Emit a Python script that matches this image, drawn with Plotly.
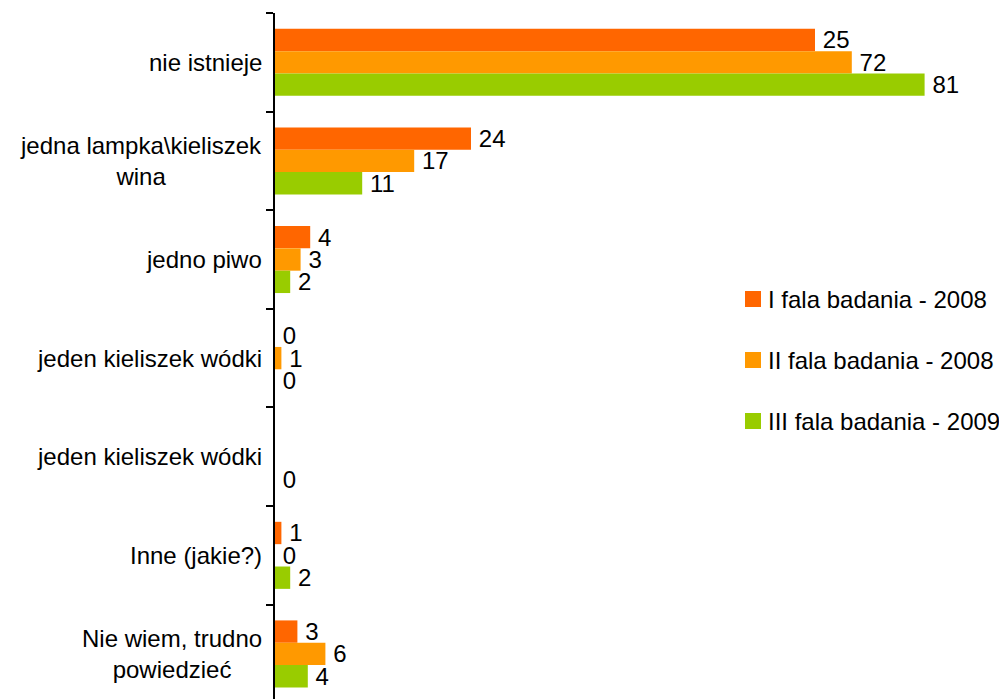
import plotly.graph_objects as go

categories = ["nie istnieje", "jedna lampka\\kieliszek<br>wina", "jedno piwo",
              "jeden kieliszek wódki", "jeden kieliszek wódki", "Inne (jakie?)",
              "Nie wiem, trudno<br>powiedzieć"]
series_names = ["I fala badania - 2008", "II fala badania - 2008", "III fala badania - 2009"]
colors = ["#FF6600", "#FF9900", "#99CC00"]

# bar lengths as drawn
vals_1 = [67.5, 24.5, 4.4, 0, None, 0.8, 2.8]
vals_2 = [72.1, 17.4, 3.2, 0.8, None, 0, 6.3]
vals_3 = [81.2, 10.9, 1.9, 0, 0, 1.9, 4.1]
# data labels as printed
labels_1 = ["25", "24", "4", "0", "", "1", "3"]
labels_2 = ["72", "17", "3", "1", "", "0", "6"]
labels_3 = ["81", "11", "2", "0", "0", "2", "4"]

FONT = "Liberation Sans, Arial, sans-serif"
W, H = 999, 699
ML, MR, MT, MB = 275, 4, 13, 0
PW, PH = W - ML - MR, H - MT - MB


def px_x(px):
    return (px - ML) / PW


def px_y(py):
    return 1 - (py - MT) / PH


pos = list(range(len(categories)))

fig = go.Figure()
for name, vals, labs, col in zip(series_names, [vals_1, vals_2, vals_3],
                                 [labels_1, labels_2, labels_3], colors):
    fig.add_trace(go.Bar(
        x=vals, y=pos, orientation="h", name=name, marker_color=col,
        marker_line_width=0, text=labs, texttemplate="\u2009%{text}",
        textposition="outside",
        textfont=dict(family=FONT, size=24, color="black"),
        constraintext="none", cliponaxis=False, showlegend=False,
        hoverinfo="skip"))

annotations = [dict(x=0, xref="paper", y=p, yref="y", text=c, showarrow=False,
                    xanchor="right", yanchor="middle", align="center", xshift=-11,
                    font=dict(family=FONT, size=24, color="black"))
               for p, c in zip(pos, categories)]

# legend drawn as squares + text
shapes = []
for i, (name, col) in enumerate(zip(series_names, colors)):
    cy = 299 + 61 * i
    shapes.append(dict(type="rect", xref="paper", yref="paper",
                       x0=px_x(745), x1=px_x(761), y0=px_y(cy + 8), y1=px_y(cy - 8),
                       fillcolor=col, line=dict(width=0)))
    annotations.append(dict(x=px_x(766), y=px_y(cy), xref="paper", yref="paper",
                            text=name, showarrow=False, xanchor="left",
                            yanchor="middle", align="left",
                            font=dict(family=FONT, size=24, color="black")))

fig.update_layout(
    width=W, height=H,
    margin=dict(l=ML, r=MR, t=MT, b=MB),
    paper_bgcolor="white", plot_bgcolor="white",
    barmode="group", bargap=0.32, bargroupgap=0,
    font=dict(family=FONT, size=24, color="black"),
    xaxis=dict(range=[0, 90], visible=False, fixedrange=True),
    yaxis=dict(range=[6.457, -0.5], tickmode="array",
               tickvals=[p - 0.5 for p in pos] + [len(pos) - 0.5],
               ticks="outside", ticklen=7, tickwidth=1.5, tickcolor="black",
               showticklabels=False, showgrid=False, zeroline=False,
               showline=True, linecolor="black", linewidth=1.5),
    showlegend=False,
    annotations=annotations,
    shapes=shapes,
)
fig.write_html("out.html", config={"displayModeBar": False},
               post_script="document.body.style.margin='0px';"
               "document.body.style.overflow='hidden';")
